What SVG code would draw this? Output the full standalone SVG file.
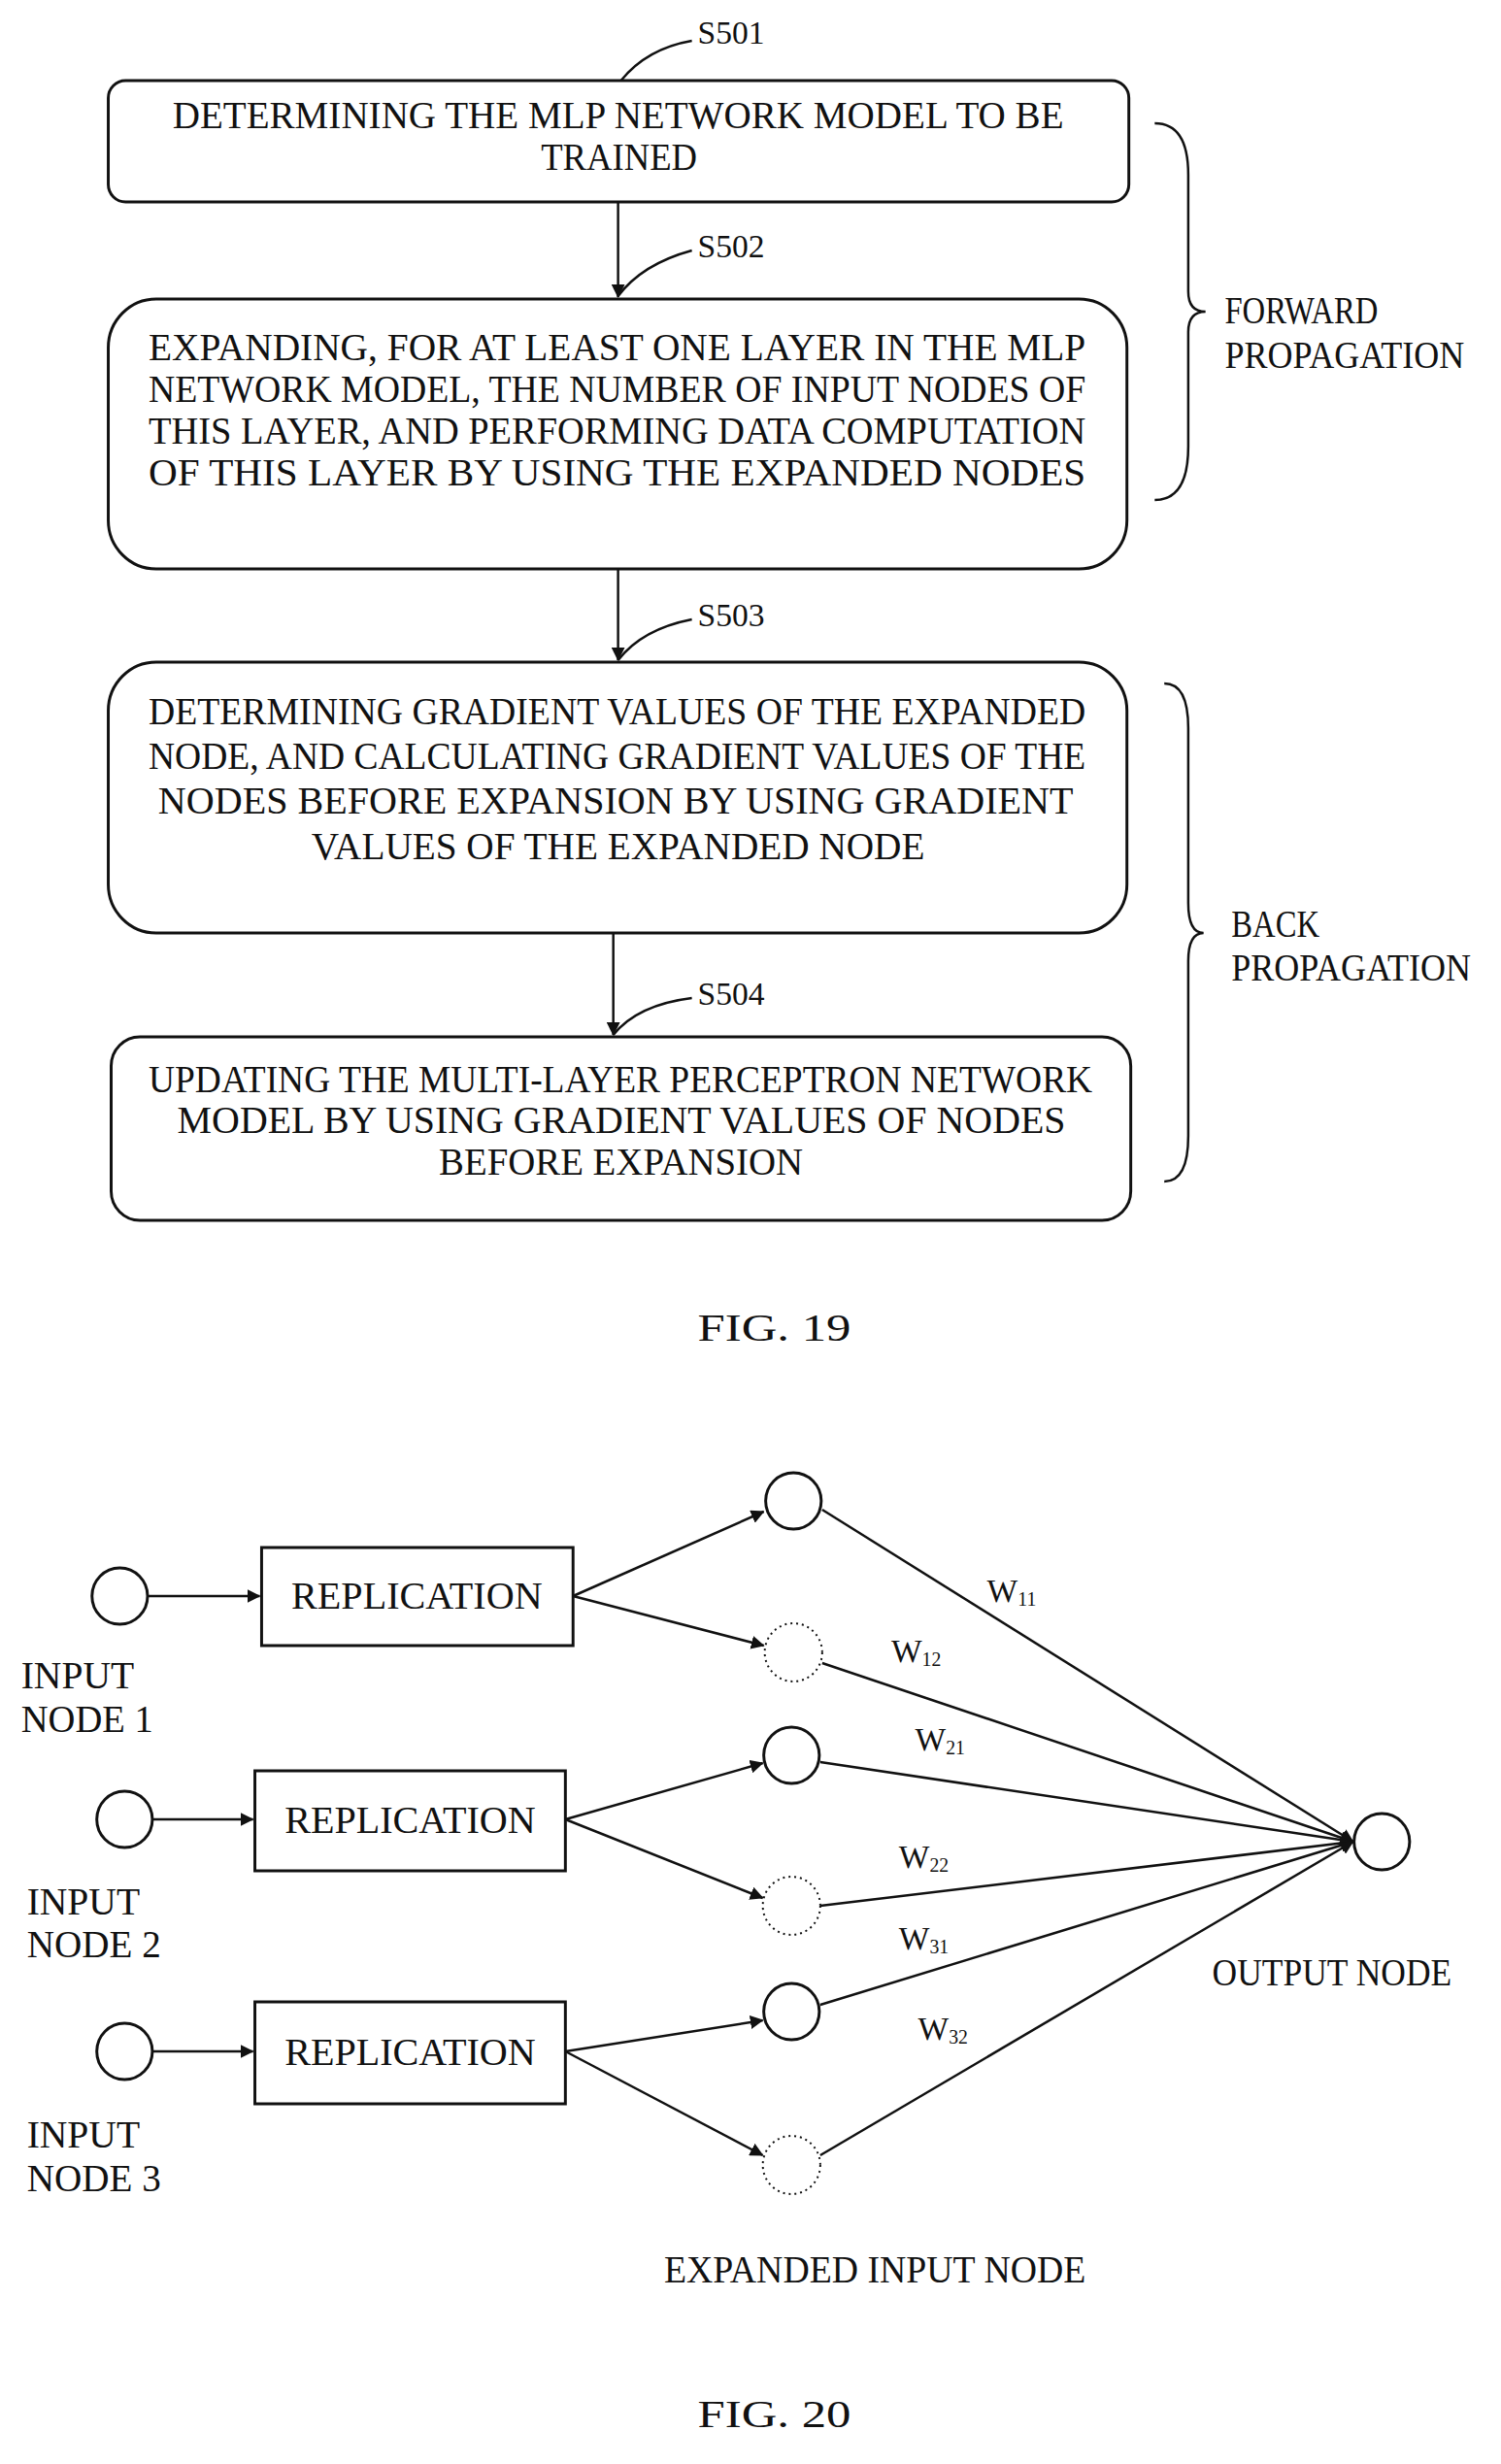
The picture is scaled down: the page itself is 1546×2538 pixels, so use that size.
<svg xmlns="http://www.w3.org/2000/svg" width="1546" height="2538" viewBox="0 0 1546 2538">
<style>
text{font-family:"Liberation Serif",serif;font-size:40px;fill:#111}
.c{text-anchor:middle}
.b{fill:#fff;stroke:#111;stroke-width:3}
.l{fill:none;stroke:#111;stroke-width:2.5}
.d{fill:#fff;stroke:#111;stroke-width:2;stroke-dasharray:2 4}
.s{font-size:34px}
</style>
<defs><marker id="a" markerWidth="14" markerHeight="14" refX="13" refY="7" orient="auto" markerUnits="userSpaceOnUse"><path d="M0,0L14,7L0,14z" fill="#111"/></marker></defs>
<rect width="1546" height="2538" fill="#fff"/>
<g transform="scale(0.987,1)">
<g id="connectors">
<g marker-end="url(#a)">
<path class="l" d="M645 208V306"/><path class="l" d="M645 586V680"/><path class="l" d="M640 961V1066"/>
<path class="l" d="M154 1644H271"/><path class="l" d="M159 1874H264"/><path class="l" d="M159 2113H264"/>
<path class="l" d="M598 1644L797 1557"/><path class="l" d="M598 1644L797 1695"/><path class="l" d="M590 1874L796 1816"/><path class="l" d="M590 1874L796 1955"/><path class="l" d="M590 2113L796 2081"/><path class="l" d="M590 2113L796 2220"/>
<path class="l" d="M858 1555L1412 1897"/><path class="l" d="M858 1713L1412 1897"/><path class="l" d="M856 1815L1412 1897"/><path class="l" d="M856 1963L1412 1897"/><path class="l" d="M856 2065L1412 1897"/><path class="l" d="M856 2220L1412 1897"/>
</g>
<path class="l" d="M648 83Q675 50 722 42M645 305Q670 272 722 258M645 680Q670 648 722 638M640 1066Q665 1035 722 1028" stroke-width="1.5"/>
<path class="l" d="M1205 127Q1240 127 1240 180V300Q1240 321 1258 321Q1240 321 1240 342V460Q1240 515 1205 515"/>
<path class="l" d="M1215 704Q1240 704 1240 750V930Q1240 961 1256 961Q1240 961 1240 990V1170Q1240 1217 1215 1217"/>
</g>
<g id="s501"><rect class="b" x="113" y="83" width="1065" height="125" rx="18"/>
<text x="645" y="132" class="c" textLength="930" lengthAdjust="spacingAndGlyphs">DETERMINING THE MLP NETWORK MODEL TO BE</text>
<text x="646" y="175" class="c" textLength="163" lengthAdjust="spacingAndGlyphs">TRAINED</text>
<text x="728" y="45" class="s">S501</text></g>
<g id="s502"><rect class="b" x="113" y="308" width="1063" height="278" rx="50"/>
<text x="155" y="371" textLength="978" lengthAdjust="spacingAndGlyphs">EXPANDING, FOR AT LEAST ONE LAYER IN THE MLP</text>
<text x="155" y="414" textLength="978" lengthAdjust="spacingAndGlyphs">NETWORK MODEL, THE NUMBER OF INPUT NODES OF</text>
<text x="155" y="457" textLength="978" lengthAdjust="spacingAndGlyphs">THIS LAYER, AND PERFORMING DATA COMPUTATION</text>
<text x="155" y="500" textLength="978" lengthAdjust="spacingAndGlyphs">OF THIS LAYER BY USING THE EXPANDED NODES</text>
<text x="728" y="265" class="s">S502</text></g>
<g id="s503"><rect class="b" x="113" y="682" width="1063" height="279" rx="50"/>
<text x="155" y="746" textLength="978" lengthAdjust="spacingAndGlyphs">DETERMINING GRADIENT VALUES OF THE EXPANDED</text>
<text x="155" y="792" textLength="978" lengthAdjust="spacingAndGlyphs">NODE, AND CALCULATING GRADIENT VALUES OF THE</text>
<text x="165" y="838" textLength="955" lengthAdjust="spacingAndGlyphs">NODES BEFORE EXPANSION BY USING GRADIENT</text>
<text x="325" y="885" textLength="640" lengthAdjust="spacingAndGlyphs">VALUES OF THE EXPANDED NODE</text>
<text x="728" y="645" class="s">S503</text></g>
<g id="s504"><rect class="b" x="116" y="1068" width="1064" height="189" rx="30"/>
<text x="155" y="1125" textLength="985" lengthAdjust="spacingAndGlyphs">UPDATING THE MULTI-LAYER PERCEPTRON NETWORK</text>
<text x="185" y="1167" textLength="927" lengthAdjust="spacingAndGlyphs">MODEL BY USING GRADIENT VALUES OF NODES</text>
<text x="458" y="1210" textLength="380" lengthAdjust="spacingAndGlyphs">BEFORE EXPANSION</text>
<text x="728" y="1035" class="s">S504</text></g>
<g id="forward"><text x="1278" y="333" textLength="160" lengthAdjust="spacingAndGlyphs">FORWARD</text><text x="1278" y="379" textLength="250" lengthAdjust="spacingAndGlyphs">PROPAGATION</text></g>
<g id="back"><text x="1285" y="965" textLength="92" lengthAdjust="spacingAndGlyphs">BACK</text><text x="1285" y="1010" textLength="250" lengthAdjust="spacingAndGlyphs">PROPAGATION</text></g>
<text x="728" y="1381" textLength="160" lengthAdjust="spacingAndGlyphs">FIG. 19</text>
<g id="in1"><circle class="b" cx="125" cy="1644" r="29"/><text x="22" y="1739" textLength="118" lengthAdjust="spacingAndGlyphs">INPUT</text><text x="22" y="1784" textLength="138" lengthAdjust="spacingAndGlyphs">NODE 1</text></g>
<g id="in2"><circle class="b" cx="130" cy="1874" r="29"/><text x="28" y="1972" textLength="118" lengthAdjust="spacingAndGlyphs">INPUT</text><text x="28" y="2016" textLength="140" lengthAdjust="spacingAndGlyphs">NODE 2</text></g>
<g id="in3"><circle class="b" cx="130" cy="2113" r="29"/><text x="28" y="2212" textLength="118" lengthAdjust="spacingAndGlyphs">INPUT</text><text x="28" y="2257" textLength="140" lengthAdjust="spacingAndGlyphs">NODE 3</text></g>
<g id="rep1"><rect class="b" x="273" y="1594" width="325" height="101"/><text x="435" y="1657" class="c" textLength="262" lengthAdjust="spacingAndGlyphs">REPLICATION</text></g>
<g id="rep2"><rect class="b" x="266" y="1824" width="324" height="103"/><text x="428" y="1888" class="c" textLength="262" lengthAdjust="spacingAndGlyphs">REPLICATION</text></g>
<g id="rep3"><rect class="b" x="266" y="2062" width="324" height="105"/><text x="428" y="2127" class="c" textLength="262" lengthAdjust="spacingAndGlyphs">REPLICATION</text></g>
<g id="e11"><circle class="b" cx="828" cy="1546" r="29"/></g>
<g id="e12"><circle class="d" cx="828" cy="1702" r="30"/></g>
<g id="e21"><circle class="b" cx="826" cy="1808" r="29"/></g>
<g id="e22"><circle class="d" cx="826" cy="1963" r="30"/></g>
<g id="e31"><circle class="b" cx="826" cy="2072" r="29"/></g>
<g id="e32"><circle class="d" cx="826" cy="2230" r="30"/></g>
<g id="out"><circle class="b" cx="1442" cy="1897" r="29"/><text x="1265" y="2045" textLength="250" lengthAdjust="spacingAndGlyphs">OUTPUT NODE</text></g>
<g id="wl">
<text x="1030" y="1650" style="font-size:34px">W<tspan font-size="20" dy="4">11</tspan></text>
<text x="930" y="1712" style="font-size:34px">W<tspan font-size="20" dy="4">12</tspan></text>
<text x="955" y="1803" style="font-size:34px">W<tspan font-size="20" dy="4">21</tspan></text>
<text x="938" y="1924" style="font-size:34px">W<tspan font-size="20" dy="4">22</tspan></text>
<text x="938" y="2008" style="font-size:34px">W<tspan font-size="20" dy="4">31</tspan></text>
<text x="958" y="2101" style="font-size:34px">W<tspan font-size="20" dy="4">32</tspan></text>
</g>
<text x="693" y="2351" textLength="440" lengthAdjust="spacingAndGlyphs">EXPANDED INPUT NODE</text>
<text x="728" y="2500" textLength="160" lengthAdjust="spacingAndGlyphs">FIG. 20</text>
</g>
</svg>
